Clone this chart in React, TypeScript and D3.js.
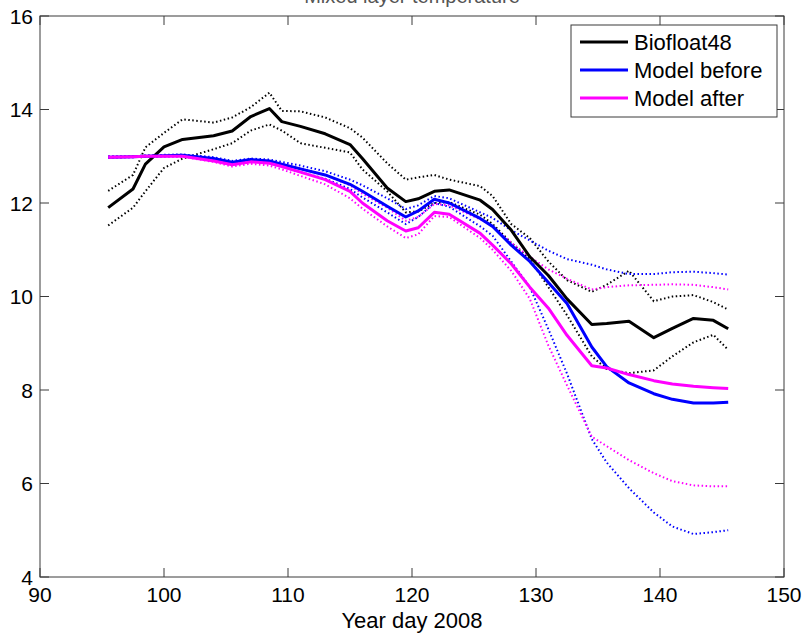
import React from "react";
import * as d3 from "d3";

const days = [95.5, 97.5, 98.5, 100, 101.5, 104, 105.5, 107, 108.5, 109.5, 111, 113, 115, 116, 118, 119.5, 120.5, 121.8, 123, 125.5, 126.5, 128, 129.5, 131, 132.5, 134.5, 135.7, 137.5, 139.5, 141, 142.7, 144.3, 145.5];

const floatMean = [11.9, 12.3, 12.83, 13.2, 13.36, 13.44, 13.54, 13.85, 14.02, 13.74, 13.64, 13.48, 13.25, 12.95, 12.32, 12.03, 12.09, 12.25, 12.28, 12.06, 11.86, 11.42, 10.85, 10.45, 9.95, 9.4, 9.42, 9.47, 9.12, 9.32, 9.53, 9.49, 9.31];
const floatUpper = [12.26, 12.6, 13.19, 13.5, 13.79, 13.72, 13.83, 14.05, 14.36, 13.97, 13.96, 13.83, 13.6, 13.4, 12.85, 12.5, 12.55, 12.6, 12.5, 12.36, 12.15, 11.55, 11.25, 10.75, 10.35, 10.1, 10.25, 10.55, 9.9, 10.0, 10.03, 9.88, 9.72];
const floatLower = [11.52, 11.9, 12.25, 12.75, 12.95, 13.15, 13.28, 13.55, 13.68, 13.55, 13.28, 13.18, 13.08, 12.72, 12.25, 11.8, 11.82, 12.0, 12.02, 11.75, 11.55, 11.15, 10.8, 10.2, 9.6, 8.72, 8.45, 8.36, 8.42, 8.72, 9.02, 9.18, 8.86];

const beforeMean = [12.98, 12.99, 13.0, 13.01, 13.02, 12.95, 12.87, 12.93, 12.9, 12.83, 12.73, 12.6, 12.4, 12.25, 11.93, 11.7, 11.83, 12.08, 12.0, 11.67, 11.5, 11.1, 10.75, 10.3, 9.85, 8.92, 8.5, 8.15, 7.92, 7.8, 7.72, 7.72, 7.74];
const beforeUpper = [13.0, 13.0, 13.02, 13.03, 13.04, 12.98, 12.9, 12.95, 12.93, 12.88, 12.8, 12.68, 12.5, 12.38, 12.1, 11.87, 11.95, 12.15, 12.1, 11.8, 11.68, 11.42, 11.2, 10.98, 10.8, 10.68, 10.58, 10.48, 10.48, 10.52, 10.53, 10.5, 10.47];
const beforeLower = [12.97, 12.98, 12.99, 13.0, 13.0, 12.92, 12.84, 12.9, 12.87, 12.78, 12.66, 12.52, 12.3, 12.12, 11.8, 11.55, 11.7, 12.0, 11.92, 11.5, 11.3, 10.75, 10.2, 9.3, 8.35, 6.95, 6.45, 5.9, 5.38, 5.08, 4.92, 4.96, 5.0];

const afterMean = [12.98, 12.99, 13.0, 13.0, 13.0, 12.9, 12.82, 12.88, 12.85, 12.78, 12.66, 12.5, 12.25, 12.0, 11.62, 11.4, 11.47, 11.8, 11.76, 11.35, 11.1, 10.7, 10.2, 9.75, 9.17, 8.52, 8.47, 8.33, 8.2, 8.13, 8.08, 8.05, 8.03];
const afterUpper = [13.0, 13.0, 13.01, 13.02, 13.02, 12.94, 12.86, 12.92, 12.9, 12.84, 12.74, 12.6, 12.38, 12.2, 11.9, 11.62, 11.7, 11.98, 11.95, 11.65, 11.5, 11.15, 10.85, 10.58, 10.38, 10.15, 10.2, 10.24, 10.25, 10.26, 10.25, 10.2, 10.15];
const afterLower = [12.97, 12.98, 12.99, 12.99, 12.99, 12.88, 12.78, 12.84, 12.8, 12.72, 12.58, 12.4, 12.1, 11.88, 11.5, 11.25, 11.33, 11.72, 11.7, 11.25, 11.0, 10.55, 9.95, 8.95, 8.1, 7.0, 6.8, 6.5, 6.22, 6.05, 5.96, 5.94, 5.94];

const xTicks = [90, 100, 110, 120, 130, 140, 150];
const yTicks = [4, 6, 8, 10, 12, 14, 16];
const legendLabels = ["Biofloat48", "Model before", "Model after"];
const seriesColors = ["#000000", "#0000ff", "#ff00ff"];

export default function App() {
  const W = 808, H = 634;
  const left = 40, right = 784, top = 16, bottom = 577;
  const x = d3.scaleLinear().domain([90, 150]).range([left, right]);
  const y = d3.scaleLinear().domain([4, 16]).range([bottom, top]);
  const line = d3.line<number>().x((_, i) => x(days[i])).y((v) => y(v));
  const font = "'Liberation Sans', Arial, Helvetica, sans-serif";
  const tickLen = 9;
  const axisColor = "#3a3a3a";

  const dotted = [
    { d: floatUpper, c: seriesColors[0] },
    { d: floatLower, c: seriesColors[0] },
    { d: beforeUpper, c: seriesColors[1] },
    { d: beforeLower, c: seriesColors[1] },
    { d: afterUpper, c: seriesColors[2] },
    { d: afterLower, c: seriesColors[2] },
  ];
  const solid = [
    { d: floatMean, c: seriesColors[0] },
    { d: beforeMean, c: seriesColors[1] },
    { d: afterMean, c: seriesColors[2] },
  ];

  return (
    <svg width={W} height={H} style={{ position: "absolute", left: 0, top: 0, background: "#fff" }}>
      <rect x={0} y={0} width={W} height={H} fill="#fff" />
      <text x={412} y={3} textAnchor="middle" fontFamily={font} fontSize={20} fill="#555">Mixed layer temperature</text>
      {xTicks.map((t) => (
        <g key={"xt" + t}>
          <line x1={x(t)} x2={x(t)} y1={bottom} y2={bottom - tickLen} stroke={axisColor} strokeWidth={1} />
          <line x1={x(t)} x2={x(t)} y1={top} y2={top + tickLen} stroke={axisColor} strokeWidth={1} />
          <text x={x(t)} y={602} textAnchor="middle" fontFamily={font} fontSize={21} fill="#000">{t}</text>
        </g>
      ))}
      {yTicks.map((t) => (
        <g key={"yt" + t}>
          <line x1={left} x2={left + tickLen} y1={y(t)} y2={y(t)} stroke={axisColor} strokeWidth={1} />
          <line x1={right} x2={right - tickLen} y1={y(t)} y2={y(t)} stroke={axisColor} strokeWidth={1} />
          <text x={33} y={y(t)} dy="0.36em" textAnchor="end" fontFamily={font} fontSize={21} fill="#000">{t}</text>
        </g>
      ))}
      <rect x={left} y={top} width={right - left} height={bottom - top} fill="none" stroke={axisColor} strokeWidth={1} />
      {dotted.map((s, i) => (
        <path key={"d" + i} d={line(s.d) || ""} fill="none" stroke={s.c} strokeWidth={2} strokeDasharray="1.5,2.5" />
      ))}
      {solid.map((s, i) => (
        <path key={"s" + i} d={line(s.d) || ""} fill="none" stroke={s.c} strokeWidth={3} strokeLinejoin="round" />
      ))}
      <text x={412} y={628} textAnchor="middle" fontFamily={font} fontSize={22} fill="#000">Year day 2008</text>
      <rect x={571} y={25} width={206} height={92} fill="#fff" stroke={axisColor} strokeWidth={1} />
      {legendLabels.map((lab, i) => (
        <g key={"lg" + i}>
          <line x1={580} x2={628} y1={42 + i * 28} y2={42 + i * 28} stroke={seriesColors[i]} strokeWidth={3} />
          <text x={634} y={42 + i * 28} dy="0.36em" fontFamily={font} fontSize={22} fill="#000">{lab}</text>
        </g>
      ))}
    </svg>
  );
}
